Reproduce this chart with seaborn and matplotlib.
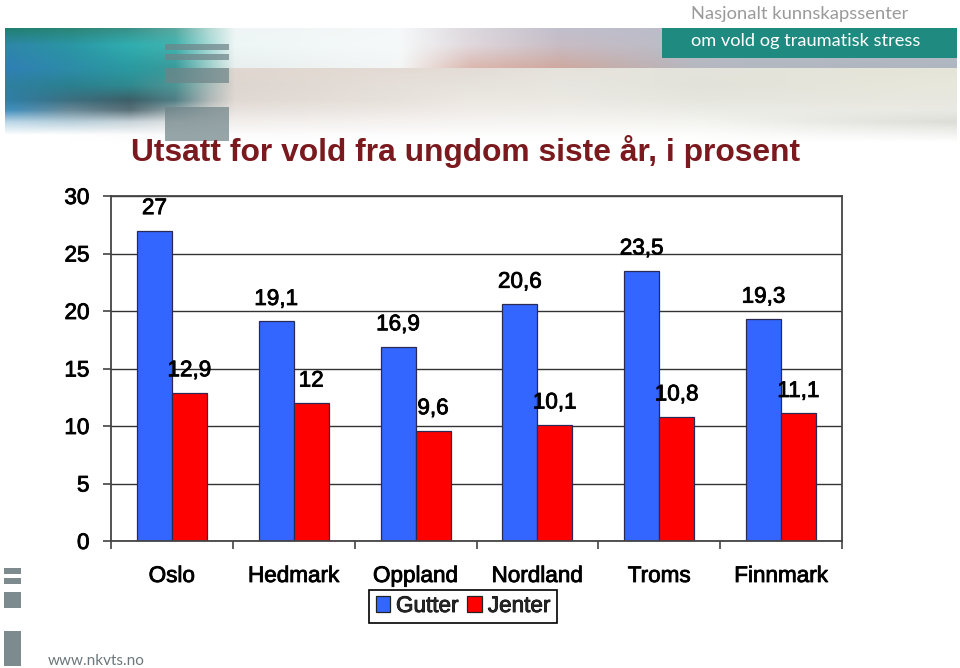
import numpy as np
import pandas as pd
import seaborn as sns
import matplotlib
matplotlib.use("Agg")
import matplotlib.pyplot as plt
from matplotlib.colors import to_rgb
from matplotlib.patches import Rectangle
from matplotlib.patheffects import withStroke

# ---------- data ----------
regions = ["Oslo", "Hedmark", "Oppland", "Nordland", "Troms", "Finnmark"]
gutter = [27, 19.1, 16.9, 20.6, 23.5, 19.3]
jenter = [12.9, 12, 9.6, 10.1, 10.8, 11.1]
series_names = ["Gutter", "Jenter"]
series_colors = ["#3366ff", "#ff0000"]
y_ticks = [0, 5, 10, 15, 20, 25, 30]
title_text = "Utsatt for vold fra ungdom siste år, i prosent"

W, H = 960, 668
sns.set_theme(style="white")
plt.rcParams["font.family"] = ["Liberation Sans", "DejaVu Sans"]
fig = plt.figure(figsize=(W / 100, H / 100), dpi=100, facecolor="white")
heavy = [withStroke(linewidth=0.6, foreground="black")]
TXT = 16.2

# ---------- slide background (pixel coordinates) ----------
bg = fig.add_axes([0, 0, 1, 1], zorder=0)
band_x = [5, 70, 130, 175, 210, 235, 400, 470, 560, 700, 957]
band_y = [28, 45, 67.5, 68.5, 85, 100, 110, 122, 135, 142]
band_rows = [
    "#1f7f6f #2a8575 #3a9088 #5aa8a0 #b5dad6 #eef5f4 #f5f8f8 #dcd8de #c0bfcc #b9bcc9 #b8bcc8",
    "#2f86a8 #2a96a5 #30aeb0 #40b4b0 #a8dcd8 #eef6f6 #f6f9f9 #e0d8dc #c8bcc4 #b8bcc8 #b5bcc8",
    "#2f7fb5 #2d8ca8 #2a9aa0 #3a9a9a #a0cfcb #e8efee #f4f6f6 #dcb8b0 #cfa9a0 #b5b8c0 #aeb6c0",
    "#2f7fb5 #2d8ca8 #2a9aa0 #3a9a9a #a0c4c0 #e0d8d0 #e3dad3 #e4dcd6 #e6e2dc #e4e4dc #e4e4d8",
    "#2e80a0 #2a8090 #2f8a90 #4f9595 #a8bcb8 #ddd5cf #e6e0da #e6e2dc #e8e6e0 #e2e2da #e8e8dc",
    "#2f80a8 #3c6f80 #3c5f68 #4f7f85 #b0b8b8 #e0d8d2 #e8e2dc #ece8e2 #ece9e3 #e6e6df #e8e8e0",
    "#3f90c0 #6a8a98 #5a7078 #90a4a8 #cfd0ce #e8e2de #eee8e4 #f0ece8 #f0eeea #ecece6 #eaeae4",
    "#bcd8e8 #b9d0dc #c8d4da #dfe2e2 #eceae8 #f2efec #f5f2f0 #f6f4f2 #f6f5f2 #f4f4f0 #ddddd8",
    "#ffffff #ffffff #fcfcfc #fbfbfb #fcfcfc #fcfcfc #fdfdfd #fdfdfd #fdfdfd #fdfdfc #f4f4f2",
    "#ffffff #ffffff #ffffff #ffffff #ffffff #ffffff #ffffff #ffffff #ffffff #ffffff #ffffff",
]
band = np.array([[to_rgb(c) for c in row.split()] for row in band_rows])
px_x = np.arange(5, 957) + 0.5
px_y = np.arange(28, 142) + 0.5
by_x = np.stack([[np.interp(px_x, band_x, band[r, :, ch]) for ch in range(3)] for r in range(len(band_y))])
img = np.stack([[np.interp(px_y, band_y, by_x[:, ch, i]) for i in range(len(px_x))] for ch in range(3)], axis=-1)
bg.imshow(np.transpose(img, (1, 0, 2)), extent=(5, 957, 142, 28), aspect="auto", interpolation="nearest", zorder=1)
bg.set_xlim(0, W)
bg.set_ylim(H, 0)
bg.axis("off")

for y0, y1 in [(44, 50), (54, 60), (68, 83), (107, 141)]:
    bg.add_patch(Rectangle((165, y0), 64, y1 - y0, color="#6f8488", alpha=0.72, lw=0, zorder=2))
for y0, y1 in [(568, 574), (578, 584), (592, 608), (631, 666)]:
    bg.add_patch(Rectangle((4, y0), 17, y1 - y0, color="#7d8b8f", lw=0, zorder=2))
bg.add_patch(Rectangle((662, 28), 295, 30, color="#1f8a80", lw=0, zorder=2))

logo_font = ["Lato", "DejaVu Sans"]
bg.text(691, 14, "Nasjonalt kunnskapssenter", family=logo_font, fontsize=13.25, color="#9a9a9a", va="center", zorder=3)
bg.text(691, 41, "om vold og traumatisk stress", family=logo_font, fontsize=13.15, color="white", va="center", zorder=3)
bg.text(48, 661, "www.nkvts.no", family=logo_font, fontsize=10.95, color="#6d777b", va="center", zorder=3)
bg.text(466, 151.5, title_text, fontsize=22.9, fontweight="bold", color="#7a1a1e", ha="center", va="center", zorder=3)

# ---------- chart ----------
df = pd.DataFrame({
    "region": regions * 2,
    "serie": [series_names[0]] * len(regions) + [series_names[1]] * len(regions),
    "value": gutter + jenter,
})
ax = fig.add_axes([111 / W, 1 - 541 / H, (842 - 111) / W, (541 - 196) / H], zorder=1)
ax.patch.set_alpha(0)
sns.barplot(data=df, x="region", y="value", hue="serie", order=regions,
            hue_order=series_names, palette=series_colors, saturation=1,
            width=70 / 122, gap=0, edgecolor="#2a2a55", linewidth=0.9, ax=ax, legend=False)
ax.set_xlim(-0.5, len(regions) - 0.5)
ax.set_ylim(y_ticks[0], y_ticks[-1])
ax.set_xlabel("")
ax.set_ylabel("")
ax.set_yticks(y_ticks)
ax.set_axisbelow(True)
ax.grid(True, axis="y", color="#333333", linewidth=1.0)
ax.set_xticks(np.arange(-0.5, len(regions)), minor=False)
ax.set_xticklabels([""] * (len(regions) + 1))
ax.set_xticks(np.arange(len(regions)), labels=regions, minor=True)
ax.tick_params(axis="x", which="major", length=6, width=1.1, color="#333333", bottom=True)
ax.tick_params(axis="x", which="minor", length=0, pad=18, labelsize=TXT, labelcolor="black")
ax.tick_params(axis="y", length=6, width=1.1, color="#333333", left=True, pad=9.4, labelsize=TXT, labelcolor="black")
for lab in ax.get_xticklabels(minor=True) + ax.get_yticklabels():
    lab.set_path_effects(heavy)
for side in ax.spines:
    ax.spines[side].set_visible(True)
    ax.spines[side].set_color("#444444")
    ax.spines[side].set_linewidth(1.3)

# ---------- value labels ----------
for cont in ax.containers:
    labels = [f"{v:g}".replace(".", ",") for v in cont.datavalues]
    for t in ax.bar_label(cont, labels=labels, padding=8.2, fontsize=TXT, color="black"):
        t.set_path_effects(heavy)

# ---------- legend ----------
handles = [Rectangle((0, 0), 1, 1, facecolor=c, edgecolor="#222222", lw=0.9) for c in series_colors]
leg = fig.legend(handles, series_names, loc="center", bbox_to_anchor=(463 / W, 1 - 606.5 / H),
                 ncol=2, frameon=True, fancybox=False, edgecolor="black", framealpha=1,
                 prop={"size": TXT}, handlelength=0.66, handleheight=0.7,
                 handletextpad=0.25, columnspacing=0.4, borderpad=0.27, borderaxespad=0)
leg.get_frame().set_linewidth(1.2)
for t in leg.get_texts():
    t.set_path_effects(heavy)

fig.savefig("out.png", dpi=100)
